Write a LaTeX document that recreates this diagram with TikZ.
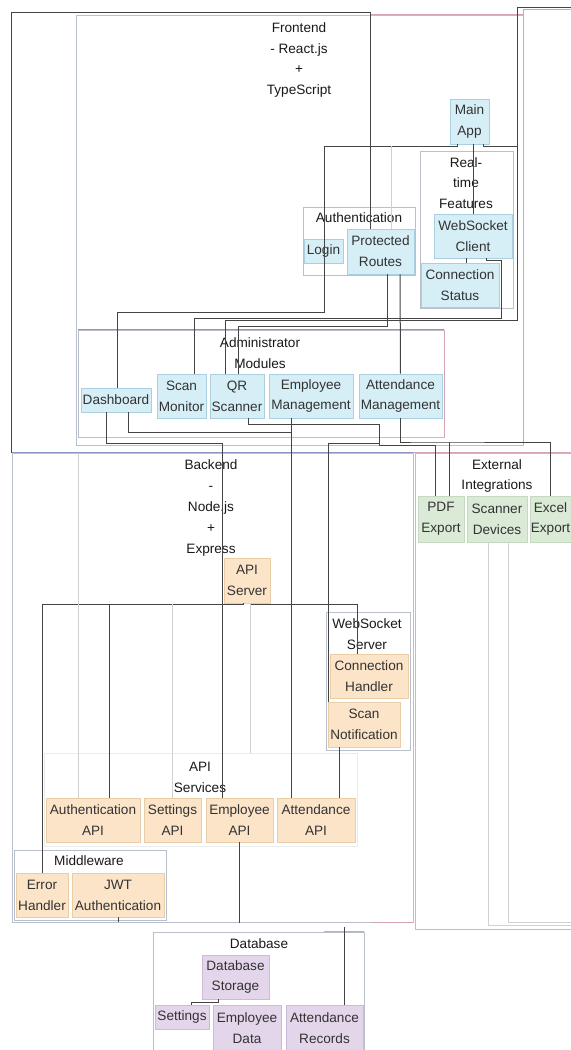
\documentclass[tikz,border=0pt]{standalone}
\usepackage{fontspec}
\setmainfont{Liberation Sans}
\usetikzlibrary{calc}

\definecolor{feblue}{HTML}{D6EEF6}
\definecolor{feline}{HTML}{A9CFE0}
\definecolor{beorange}{HTML}{FCE4C9}
\definecolor{beline}{HTML}{E9CDA8}
\definecolor{exgreen}{HTML}{DAEAD7}
\definecolor{exline}{HTML}{C4D9C0}
\definecolor{dbpurple}{HTML}{E3D6EA}
\definecolor{dbline}{HTML}{CDB9D9}
\definecolor{grpline}{HTML}{B9C0CC}
\definecolor{pinkline}{HTML}{D4A3B4}
\definecolor{blueline}{HTML}{8E94C4}
\definecolor{linkgray}{HTML}{444444}

\begin{document}
\begin{tikzpicture}[x=0.5pt, y=-0.5pt, font=\fontsize{6.8}{10.4}\selectfont,
Piece/.style={inner sep=0pt, align=center, text=black!80, line width=0.4pt},
FrontPiece/.style={Piece, fill=feblue, draw=feline},
BackPiece/.style={Piece, fill=beorange, draw=beline},
ExtPiece/.style={Piece, fill=exgreen, draw=exline},
DbPiece/.style={Piece, fill=dbpurple, draw=dbline},
Group/.style={draw=grpline, line width=0.4pt, inner sep=0pt},
Title/.style={align=center, inner sep=0pt, text=black!90},
Link/.style={draw=linkgray, line width=0.5pt},
FaintLink/.style={draw=black!18, line width=0.5pt}]

\useasboundingbox (0,0) rectangle (571,1050);

% groups
\node[Group, minimum width=223.5pt, minimum height=215pt] (frontend) at (299.5,230) {};
\node[Group, minimum width=46.5pt, minimum height=78.5pt] (realtime) at (466.5,229.5) {};
\node[Group, minimum width=56pt, minimum height=34pt] (authgrp) at (359,241) {};
\node[Group, minimum width=183pt, minimum height=53.5pt] (admin) at (261,383.5) {};
\node[Group, minimum width=200.5pt, minimum height=234.5pt] (backend) at (212.5,687.5) {};
\node[Group, minimum width=42pt, minimum height=69pt] (websock) at (368,681) {};
\node[Group, draw=black!8, minimum width=156.5pt, minimum height=46.5pt] (services) at (200.5,799.5) {};
\node[Group, minimum width=76pt, minimum height=35pt] (middleware) at (90,885) {};
\node[Group, minimum width=102.5pt, minimum height=238pt] (external) at (517.5,691) {};
\node[Group, minimum width=105.5pt, minimum height=64pt] (database) at (258.5,996) {};

\draw[pinkline] ($(frontend.north west)+(294,0)$) -- (frontend.north east) -- (frontend.south east);
\draw[pinkline] (frontend.north east) |- ++(48,-5);
\draw[blueline] (admin.north west) -- (admin.north east);
\draw[pinkline] (admin.north east) -- (admin.south east);
\draw[blueline] (backend.north west) -- (backend.north east);
\draw[pinkline] (backend.north east) -- (external.north east);
\draw[pinkline] ($(backend.south east)+(-40,0)$) -- (backend.south east);
\draw[pinkline] ($(database.north east)+(-40,0)$) -- (database.north east);

% group titles
\node[Title] (fetitle) at (299,60) {Frontend\\- React.js\\+\\TypeScript};
\node[Title] (rttitle) at (466,183) {Real-\\time\\Features};
\node[Title] (authtitle) at (359,218) {Authentication};
\node[Title] (admintitle) at (260,353) {Administrator\\Modules};
\node[Title] (betitle) at (211,508) {Backend\\-\\Node.js\\+\\Express};
\node[Title] (wstitle) at (367,634) {WebSocket\\Server};
\node[Title] (svctitle) at (200,777) {API\\Services};
\node[Title] (mwtitle) at (89,861) {Middleware};
\node[Title] (extitle) at (497,476) {External\\Integrations};
\node[Title] (dbtitle) at (259,944) {Database};

% frontend
\node[FrontPiece, minimum width=19.5pt, minimum height=22.5pt] (mainapp) at (469.5,121.5) {Main\\App};
\node[FrontPiece, minimum width=39pt, minimum height=22pt] (wsclient) at (473,236) {WebSocket\\Client};
\node[FrontPiece, minimum width=39pt, minimum height=22pt] (connstatus) at (460,285) {Connection\\Status};
\node[FrontPiece, minimum width=19.5pt, minimum height=12pt] (login) at (323.5,251) {Login};
\node[FrontPiece, minimum width=33.5pt, minimum height=22.5pt] (protroutes) at (380.5,251.5) {Protected\\Routes};
\node[FrontPiece, minimum width=35pt, minimum height=12pt] (dashboard) at (116,400) {Dashboard};
\node[FrontPiece, minimum width=24.5pt, minimum height=22pt] (scanmon) at (181.5,396) {Scan\\Monitor};
\node[FrontPiece, minimum width=27pt, minimum height=22pt] (qrscan) at (237,396) {QR\\Scanner};
\node[FrontPiece, minimum width=42pt, minimum height=22pt] (empmgmt) at (311,396) {Employee\\Management};
\node[FrontPiece, minimum width=41.5pt, minimum height=22pt] (attmgmt) at (400.5,396) {Attendance\\Management};

% backend
\node[BackPiece, minimum width=23pt, minimum height=22.5pt] (apiserver) at (247,580.5) {API\\Server};
\node[BackPiece, minimum width=39pt, minimum height=22pt] (connhandler) at (369,676) {Connection\\Handler};
\node[BackPiece, minimum width=36pt, minimum height=22.5pt] (scannotif) at (364,724.5) {Scan\\Notification};
\node[BackPiece, minimum width=47pt, minimum height=22pt] (authapi) at (93,820) {Authentication\\API};
\node[BackPiece, minimum width=28.5pt, minimum height=22pt] (settingsapi) at (172.5,820) {Settings\\API};
\node[BackPiece, minimum width=33.5pt, minimum height=22pt] (empapi) at (239.5,820) {Employee\\API};
\node[BackPiece, minimum width=39pt, minimum height=22pt] (attapi) at (316,820) {Attendance\\API};
\node[BackPiece, minimum width=26pt, minimum height=22pt] (errhandler) at (42,895) {Error\\Handler};
\node[BackPiece, minimum width=46pt, minimum height=22pt] (jwtauth) at (118,895) {JWT\\Authentication};

% external
\node[ExtPiece, minimum width=23pt, minimum height=23pt] (pdfexport) at (441,519) {PDF\\Export};
\node[ExtPiece, minimum width=30pt, minimum height=23pt] (scanner) at (497,519) {Scanner\\Devices};
\node[ExtPiece, minimum width=20.5pt, minimum height=23pt] (excel) at (550.5,519) {Excel\\Export};

% database
\node[DbPiece, minimum width=33.5pt, minimum height=22pt] (dbstorage) at (235.5,977) {Database\\Storage};
\node[DbPiece, minimum width=27pt, minimum height=12pt] (settings) at (182,1017) {Settings};
\node[DbPiece, minimum width=34pt, minimum height=22.5pt] (empdata) at (247,1028) {Employee\\Data};
\node[DbPiece, minimum width=38.5pt, minimum height=22.5pt] (attrec) at (324.5,1028) {Attendance\\Records};

% bends
\coordinate (b1) at (370,12);
\coordinate (b2) at (324,146);
\coordinate (b3) at (117,312);
\coordinate (b4) at (517,146);
\coordinate (b5) at (225,320);
\coordinate (b6) at (501,260);
\coordinate (b7) at (194,318);
\coordinate (b8) at (420,442);
\coordinate (b9) at (238,326);
\coordinate (b11) at (291,432);
\coordinate (b12) at (222,443);
\coordinate (b13) at (379,424);
\coordinate (b14) at (435,445);
\coordinate (b16) at (328,443);
\coordinate (b17) at (42,604);
\coordinate (b18) at (109,604);
\coordinate (b19) at (357,604);
\coordinate (b20) at (172,604);
\coordinate (b21) at (344,927);
\coordinate (b22) at (191,1002);
\coordinate (b23) at (571,925);
\coordinate (b24) at (571,922);
\coordinate (b25) at (571,7);
\coordinate (b26) at (391,146);
\coordinate (b27) at (449,442);
\coordinate (b28) at (78,453);

% links
\draw[Link] (backend.north west) |- (b1) -- (b1 |- protroutes.north);
\draw[Link] ($(mainapp.south)+(-12,0)$) |- (b2) |- (b3) -- (b3 |- dashboard.north);
\draw[Link] ($(mainapp.south)+(14,0)$) |- (b4) |- (b5) -- (b5 |- qrscan.north);
\draw[Link] (b25) -| (b4);
\draw[Link] (wsclient.north |- mainapp.south) -- (wsclient.north);
\draw[FaintLink] (b26) -- (b26 |- protroutes.north);
\draw[Link] ($(wsclient.south)+(-7,0)$) -- ($(connstatus.north)+(6,0)$);
\draw[Link] ($(wsclient.south)+(13,0)$) |- (b6) |- (b7) -- (b7 |- scanmon.north);
\draw[Link] ($(protroutes.south)+(6.5,0)$) |- (b9) -- (b9 |- qrscan.north);
\draw[Link] ($(protroutes.south)+(19.5,0)$) -- (attmgmt.north);
\draw[Link] (attmgmt.south) |- (b8) -| (excel.north);
\draw[Link] (b27) -- (b27 |- pdfexport.north);
\draw[Link] ($(dashboard.south)+(12,0)$) |- (b11) -- (b11 |- attapi.north);
\draw[Link] ($(empmgmt.south)+(-20,0)$) -- (b11);
\draw[Link] ($(dashboard.south)+(-10,0)$) |- (b12) -- (b12 |- empapi.north);
\draw[Link] ($(qrscan.south)+(11,0)$) |- (b13) |- (b14) -- (b14 |- pdfexport.north);
\draw[Link] (b13) |- (b16) -- (b16 |- scannotif.north);

\draw[Link] ($(apiserver.south)+(-4,0)$) |- (b17) -- (b17 |- errhandler.north);
\draw[Link] (b18) -- (b18 |- authapi.north);
\draw[Link] ($(apiserver.south)+(3,0)$) |- (b19) -- (b19 |- connhandler.north);
\draw[FaintLink] (b20) -- (b20 |- settingsapi.north);
\draw[FaintLink] ($(apiserver.south)+(3,0)$) -- ++(0,150);
\draw[FaintLink] (b28) -- (b28 |- authapi.north);
\draw[Link] ($(scannotif.south)+(-25,0)$) -- ++(0,51);
\draw[Link] (empapi.south) -- ++(0,81);
\draw[Link] (jwtauth.south) -- ++(0,5);
\draw[Link] (b21) -- (b21 |- attrec.north);
\draw[Link] ($(dbstorage.south)+(-17.5,0)$) |- (b22) -- (b22 |- settings.north);
\draw[FaintLink] ($(scanner.south)+(-9,0)$) |- (b23);
\draw[FaintLink] ($(scanner.south)+(11,0)$) |- (b24);

\end{tikzpicture}
\end{document}
